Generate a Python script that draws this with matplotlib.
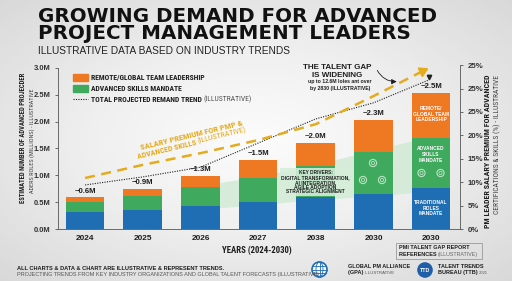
import os
import matplotlib
matplotlib.use('Agg')
import matplotlib.pyplot as plt
import numpy as np
from matplotlib import font_manager as fm
from matplotlib.font_manager import FontProperties
from matplotlib.textpath import TextPath
from matplotlib.patches import Circle, Rectangle, Ellipse

# ---------------- data ----------------
years = ['2024', '2025', '2026', '2027', '2038', '2030', '2030']
traditional = [0.31, 0.36, 0.42, 0.50, 0.60, 0.66, 0.76]
advanced = [0.19, 0.25, 0.36, 0.45, 0.57, 0.78, 0.94]
remote = [0.09, 0.14, 0.21, 0.34, 0.44, 0.59, 0.84]
bar_labels = ['~0.6M', '~0.9M', '~1.3M', '~1.5M', '~2.0M', '~2.3M', '~2.5M']
total_trend = [0.82, 0.97, 1.15, 1.60, 2.05, 2.35, 2.83]
salary_premium = [10.9, 13.7, 16.2, 19.0, 22.4, 28.4, 34.6]
left_ticks = [0.0, 0.5, 1.0, 1.5, 2.0, 2.5, 3.0]
left_tick_labels = ['0.0M', '0.5M', '1.0M', '1.5M', '2.0M', '2.5M', '3.0M']
right_ticks = [0, 5, 10, 15, 20, 25, 30, 35]
right_tick_labels = ['0%', '5%', '10%', '15%', '20%', '25%', '25%', '25%']

# ---------------- fonts ----------------
def _w(f):
    w = f.weight
    if isinstance(w, str):
        w = fm.weight_dict.get(w, 400)
    return w

prefs = ['liberation sans narrow', 'roboto condensed', 'open sans condensed',
         'noto sans condensed', 'dejavu sans condensed', 'arial narrow']
narrow = {}
for f in fm.fontManager.ttflist:
    base = os.path.basename(f.fname).lower()
    key = (f.name + ' ' + base).lower()
    if 'italic' in key or 'oblique' in key:
        continue
    if any(b in base for b in ('light', 'thin', 'black', 'medium', 'semibold', 'extra')):
        continue
    if not ('narrow' in key or 'condensed' in key):
        continue
    rank = len(prefs)
    for i, p in enumerate(prefs):
        if p.split()[0] in key:
            rank = i
            break
    w = _w(f)
    for bold, ok in ((True, w == 700), (False, w == 400)):
        if ok and (bold not in narrow or rank < narrow[bold][0]):
            narrow[bold] = (rank, f.fname)

LIB_B = FontProperties(family='Liberation Sans', weight='bold')
LIB_R = FontProperties(family='Liberation Sans', weight='normal')
NB = FontProperties(fname=narrow[True][1]) if True in narrow else LIB_B
NR = FontProperties(fname=narrow[False][1]) if False in narrow else LIB_R
DJB = FontProperties(family='DejaVu Sans', weight='bold')


def tw(s, prop):
    return TextPath((0, 0), s, size=10, prop=prop).get_extents().width


def P(base, s, px):
    size = 10 * px * 0.72 / max(tw(s, base), 1e-6)
    size = float(np.clip(size, 2.5, 22))
    p = base.copy()
    p.set_size(size)
    return p


def same(base, prop, k=1.0):
    p = base.copy()
    p.set_size(prop.get_size() * k)
    return p


ORANGE = '#ef7823'
GREEN = '#3fa95d'
BLUE = '#1f6db3'
GOLD = '#e4ab1d'
DARK = '#1e1e1e'

fig = plt.figure(figsize=(5.12, 2.81), dpi=100)
fig.patch.set_facecolor('#efefef')

bg = fig.add_axes([0, 0, 1, 1], zorder=-10)
yy, xx = np.mgrid[0:1:200j, 0:1:300j]
r = np.sqrt(((xx - 0.5) / 0.85) ** 2 + ((yy - 0.5) / 0.85) ** 2)
bg.imshow(1 - r, cmap='Greys_r', vmin=-2.6, vmax=1.1, aspect='auto', extent=[0, 1, 0, 1])
bg.axis('off')

ax = fig.add_axes([58 / 512, 1 - 229 / 281, (460 - 58) / 512, (229 - 65) / 281])
ax.patch.set_alpha(0)
x = np.arange(len(years))
w = 0.67

# light green band behind bars
xs = x[2:]
low = np.array(traditional)[2:]
up = (np.array(traditional) + np.array(advanced))[2:]
ax.fill_between(xs, low - 0.05, up + 0.03, color='#d2ead6', alpha=0.85, zorder=1, lw=0)

ax.bar(x, traditional, w, color=BLUE, zorder=3)
ax.bar(x, advanced, w, bottom=traditional, color=GREEN, zorder=3)
bot3 = np.array(traditional) + np.array(advanced)
ax.bar(x, remote, w, bottom=bot3, color=ORANGE, zorder=3)
tops = bot3 + np.array(remote)
pbar = P(LIB_B, '~2.5M', 21)
for xi, t, lab in zip(x, tops, bar_labels):
    ax.text(xi, t + 0.05, lab, ha='center', va='bottom', fontproperties=pbar,
            color=DARK, zorder=5)

ax.set_xlim(-0.47, 6.5)
ax.set_ylim(0, 3.054)
ax.set_xticks(x)
ax.set_xticklabels(years, fontproperties=P(LIB_B, '2024', 18), color=DARK)
ax.set_yticks(left_ticks)
ax.set_yticklabels(left_tick_labels, fontproperties=P(LIB_B, '3.0M', 16), color='#333333')
ax.tick_params(axis='x', length=0, pad=4)
ax.tick_params(axis='y', length=2.5, width=0.6, color='#555555', pad=3)
for s in ['top', 'right']:
    ax.spines[s].set_visible(False)
ax.spines['left'].set_bounds(0, 3.0)
for s in ['left', 'bottom']:
    ax.spines[s].set_color('#555555')
    ax.spines[s].set_linewidth(0.6)

# total projected trend (dotted)
ax.plot(x[:-1].tolist() + [6 - 0.03], total_trend[:-1] + [total_trend[-1] - 0.05],
        color='#222222', ls=(0, (1, 1.2)), lw=0.8, zorder=6)
ax.plot([6 - 0.03], [total_trend[-1]], marker='v', color='#222222', ms=3.2, zorder=6)

ax2 = ax.twinx()
ax2.set_ylim(0, 35.04)
ax2.set_yticks(right_ticks)
ax2.set_yticklabels(right_tick_labels, fontproperties=P(LIB_B, '25%', 15), color='#333333')
ax2.tick_params(axis='y', length=2.5, width=0.6, color='#555555', pad=3)
for s in ['top', 'left', 'bottom']:
    ax2.spines[s].set_visible(False)
ax2.spines['right'].set_bounds(0, 35)
ax2.spines['right'].set_color('#555555')
ax2.spines['right'].set_linewidth(0.6)
ax2.plot(x[:-1].tolist() + [5.85], salary_premium[:-1] + [salary_premium[-1] - 0.9],
         color=GOLD, ls=(0, (4, 2.6)), lw=1.8, zorder=7)
ax2.annotate('', xy=(6.0, salary_premium[-1]), xytext=(5.8, salary_premium[-1] - 1.2),
             arrowprops=dict(arrowstyle='-|>,head_length=0.5,head_width=0.3',
                             color=GOLD, lw=1.5), zorder=7)

# overlay in pixel coordinates (y downward)
la = fig.add_axes([0, 0, 1, 1], zorder=5)
la.set_xlim(0, 512)
la.set_ylim(281, 0)
la.axis('off')

# title (single two-line text)
pt = P(DJB, 'GROWING DEMAND FOR ADVANCED', 396)
lp_px = TextPath((0, 0), 'lp', size=pt.get_size(), prop=pt).get_extents().height * 100 / 72
ls_title = 17.0 / max(lp_px, 1e-6)
la.text(38, 38.8, 'GROWING DEMAND FOR ADVANCED\nPROJECT MANAGEMENT LEADERS', fontproperties=pt,
        color='#111111', va='baseline', ha='left', linespacing=ls_title)
s_sub = 'ILLUSTRATIVE DATA BASED ON INDUSTRY TRENDS'
la.text(38, 54, s_sub, fontproperties=P(LIB_R, s_sub, 250), color='#222222', va='baseline')

# legend
la.add_patch(Rectangle((73, 73.5), 14.5, 7.5, color=ORANGE))
la.add_patch(Rectangle((73, 85), 14.5, 7, color=GREEN))
la.plot([72.5, 88], [99.3, 99.3], color='#222222', ls=(0, (1, 1.2)), lw=0.8)
pleg = P(NB, 'REMOTE/GLOBAL TEAM LEADERSHIP', 114)
la.text(91, 77.3, 'REMOTE/GLOBAL TEAM LEADERSHIP', fontproperties=pleg, color=DARK, va='center')
la.text(91, 88.4, 'ADVANCED SKILLS MANDATE', fontproperties=pleg, color=DARK, va='center')
tl = la.text(91, 99.4, 'TOTAL PROJECTED REMAND TREND ', fontproperties=pleg, color=DARK, va='center')
la.annotate('(ILLUSTRATIVE)', xycoords=tl, xy=(1, 0.5), va='center',
            fontproperties=same(NR, pleg), color='#555555')

# salary premium label (rotated)
th = np.deg2rad(13.6)
d = np.array([np.cos(th), -np.sin(th)])
s1 = 'SALARY PREMIUM FOR PMP &'
psal = P(NB, s1, 104)
psal_r = same(NR, psal)
la.text(192, 135.5, s1, fontproperties=psal, color=GOLD, rotation=13.6,
        ha='center', va='center', rotation_mode='anchor')
a_txt, b_txt = 'ADVANCED SKILLS ', '(ILLUSTRATIVE)'
wa = tw(a_txt, psal) * psal.get_size() / 10 / 0.72
wb = tw(b_txt, psal_r) * psal.get_size() / 10 / 0.72
k = min(1.0, 110 / (wa + wb))
psal2 = same(NB, psal, k)
psal2_r = same(NR, psal, k)
wa *= k
wb = wb * k + 1.5
c2 = np.array([192.3, 142.8])
start = c2 - d * (wa + wb) / 2
pa = start + d * wa / 2
pb = start + d * (wa + wb / 2)
la.text(pa[0], pa[1], a_txt, fontproperties=psal2, color=GOLD, rotation=13.6,
        ha='center', va='center', rotation_mode='anchor')
la.text(pb[0], pb[1], b_txt, fontproperties=psal2_r, color=GOLD, rotation=13.6,
        ha='center', va='center', rotation_mode='anchor')

# talent gap annotation
pgap = P(LIB_B, 'THE TALENT GAP', 69)
la.text(337.5, 67.7, 'THE TALENT GAP', fontproperties=pgap, color=DARK, ha='center', va='center')
la.text(337.5, 75.2, 'IS WIDENING', fontproperties=pgap, color=DARK, ha='center', va='center')
psm = P(LIB_B, 'up to 12.6M loles ant over', 62)
la.text(340, 82.0, 'up to 12.6M loles ant over', fontproperties=psm, color=DARK, ha='center', va='center')
la.text(340, 88.3, 'by 2830 (ILLUSTRATIVE)', fontproperties=psm, color=DARK, ha='center', va='center')
la.annotate('', xy=(399.5, 81.5), xytext=(376, 68),
            arrowprops=dict(arrowstyle='-|>,head_length=0.3,head_width=0.15',
                            color=DARK, lw=0.6, connectionstyle='arc3,rad=0.35'))

# key drivers box
la.add_patch(Rectangle((280, 168), 71, 28, fc='#d6eedb', ec='none', alpha=0.88, zorder=2))
la.text(315.5, 172.7, 'KEY DRIVERS:', fontproperties=P(LIB_B, 'KEY DRIVERS:', 33), color=DARK,
        ha='center', va='center', zorder=3)
pkd = P(LIB_B, 'DIGITAL TRANSFORMATION,', 68)
for yy_, s in zip([178.0, 182.6, 187.2, 191.8],
                  ['DIGITAL TRANSFORMATION,', 'AI INTEGRATION,', 'AGILE ADOPTION',
                   'STRATEGIC ALIGNMENT']):
    la.text(315.5, yy_, s, fontproperties=pkd, color=DARK, ha='center', va='center', zorder=3)

# in-bar labels (last bar)
pin = P(LIB_B, 'GLOBAL TEAM', 35)
for yy_, s in zip([108.5, 114.2, 119.9, 149.0, 154.6, 160.2, 202.7, 208.3, 213.9],
                  ['REMOTE/', 'GLOBAL TEAM', 'LEADERSHIP', 'ADVANCED', 'SKILLS', 'MANDATE',
                   'TRADITIONAL', 'ROLES', 'MANDATE']):
    la.text(431, yy_, s, fontproperties=pin, color='white', ha='center', va='center', zorder=3)
for (px_, py_) in [(421.5, 173), (440.5, 173), (373, 163), (363, 180), (382, 180)]:
    la.add_patch(Circle((px_, py_), 3.6, fc='none', ec='#b9e3c4', lw=0.8, zorder=3))
    la.add_patch(Circle((px_, py_), 1.6, fc='none', ec='#b9e3c4', lw=0.6, zorder=3))

# axis titles
la.text(257, 250, 'YEARS (2024-2030)', fontproperties=P(NB, 'YEARS (2024-2030)', 70),
        color=DARK, ha='center', va='center')
s = 'ESTIMATED NUMBER OF ADVANCED PROJECDER'
la.text(23, 138, s, fontproperties=P(NB, s, 130), color=DARK, rotation=90, ha='center', va='center')
s = 'ADERS ROLES (MILLIONS) - ILLUSTRATIVE'
la.text(32, 140.5, s, fontproperties=P(NR, s, 105), color='#444444', rotation=90, ha='center', va='center')
s = 'PM LEADER SALARY PREMIUM FOR ADVANCED'
la.text(487, 151, s, fontproperties=P(NB, s, 152), color=DARK, rotation=90, ha='center', va='center')
s = 'CERTIFICATIONS & SKILLS (%) - ILLUSTRATIVE'
la.text(497, 144, s, fontproperties=P(NR, s, 138), color='#444444', rotation=90, ha='center', va='center')

# footer
s = 'ALL CHARTS & DATA & CHART ARE ILLUSTRATIVE & REPRESENT TRENDS.'
la.text(17, 268, s, fontproperties=P(LIB_B, s, 208), color=DARK, va='center')
s = 'PROJECTING TRENDS FROM KEY INDUSTRY ORGANIZATIONS AND GLOBAL TALENT FORECASTS (ILLUSTRATIVE).'
la.text(17, 274.3, s, fontproperties=P(LIB_R, s, 304), color='#555555', va='center')

# PMI box
la.add_patch(Rectangle((396, 243), 86, 16, fc='none', ec='#9a9a9a', lw=0.6))
ppmi = P(LIB_B, 'PMI TALENT GAP REPORT', 70)
la.text(399, 247.8, 'PMI TALENT GAP REPORT', fontproperties=ppmi, color=DARK, va='center')
tr = la.text(399, 254.2, 'REFERENCES ', fontproperties=ppmi, color=DARK, va='center')
la.annotate('(ILLUSTRATIVE)', xycoords=tr, xy=(1, 0.5), va='center',
            fontproperties=same(LIB_R, ppmi, 0.95), color='#666666')

# logos
la.add_patch(Circle((319.5, 269.5), 7.5, fc='white', ec=BLUE, lw=1.2))
for dy in (-3.8, 0, 3.8):
    hw = np.sqrt(max(7.5 ** 2 - dy ** 2, 0))
    la.plot([319.5 - hw, 319.5 + hw], [269.5 + dy, 269.5 + dy], color=BLUE, lw=0.6)
la.add_patch(Ellipse((319.5, 269.5), 7, 15, fc='none', ec=BLUE, lw=0.6))
la.plot([319.5, 319.5], [262, 277], color=BLUE, lw=0.6)
pg = P(LIB_B, 'GLOBAL PM ALLIANCE', 62)
la.text(348, 266.3, 'GLOBAL PM ALLIANCE', fontproperties=pg, color=DARK, va='center')
tg = la.text(348, 272.6, '(GPA) ', fontproperties=pg, color=DARK, va='center')
la.annotate('ILLUSTRATIVE', xycoords=tg, xy=(1, 0.45), va='center',
            fontproperties=same(LIB_R, pg, 0.8), color='#555555')
la.add_patch(Circle((425, 270), 7.8, fc='#1f5ea8', ec='none'))
la.text(425, 270.3, 'TTD', fontproperties=P(LIB_B, 'TTD', 10), color='white', ha='center', va='center')
pt2 = P(LIB_B, 'TALENT TRENDS', 45)
la.text(438, 266.3, 'TALENT TRENDS', fontproperties=pt2, color=DARK, va='center')
tt = la.text(438, 272.6, 'BUREAU (TTB) ', fontproperties=pt2, color=DARK, va='center')
la.annotate('2021', xycoords=tt, xy=(1, 0.45), va='center',
            fontproperties=same(LIB_R, pt2, 0.75), color='#555555')

fig.savefig('out.png', dpi=100, facecolor=fig.get_facecolor())
